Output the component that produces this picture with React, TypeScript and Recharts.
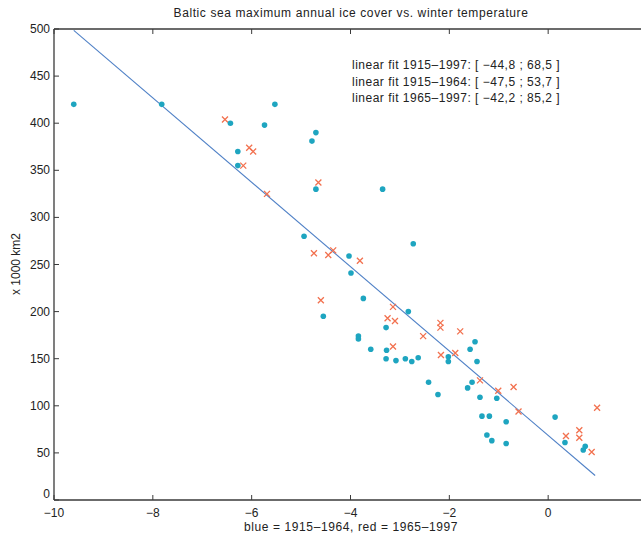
import { ScatterChart, Scatter, XAxis, YAxis, ReferenceLine } from "recharts";

// ice cover (x 1000 km2) vs winter temperature
const blueTemp = [
  -9.6, -7.82, -6.43, -6.28, -6.28, -5.53, -5.74, -4.7, -4.78, -4.7, -3.35, -4.94, -2.73, -4.03, -3.99, -3.74,
  -4.55, -2.83, -3.28, -3.84, -3.84, -3.59, -3.27, -3.28, -3.08, -2.89, -2.76, -2.63, -1.48, -1.58, -2.02, -2.02,
  -1.44, -2.42, -2.23, -1.54, -1.63, -1.38, -1.04, -1.34, -1.19, -0.85, -1.24, -1.14, -0.85, 0.14, 0.34, 0.75, 0.71,
];
const blueIce = [
  420, 420, 400, 370, 355, 420, 398, 390, 381, 330, 330, 280, 272, 259, 241, 214,
  195, 200, 183, 174, 171, 160, 159, 150, 148, 150, 147, 151, 168, 160, 152, 147,
  147, 125, 112, 125, 119, 109, 108, 89, 89, 83, 69, 63, 60, 88, 61, 57, 53,
];
const redTemp = [
  -6.54, -6.05, -5.97, -6.17, -5.69, -4.65, -4.74, -4.45, -4.35, -3.81, -4.6, -3.14, -3.25, -3.1, -2.53, -2.18,
  -2.18, -3.14, -1.78, -2.17, -1.88, -1.38, -1.01, -0.7, -0.6, 0.99, 0.36, 0.63, 0.63, 0.88,
];
const redIce = [
  404, 374, 370, 355, 325, 337, 262, 260, 265, 254, 212, 205, 193, 190, 174, 188,
  183, 163, 179, 154, 156, 127, 116, 120, 94, 98, 68, 74, 66, 51,
];
// ends of the 1915-1997 fit line
const fitTemp = [-9.6, 0.95];
const fitIce = [498.5, 26];

const fitLabels = [
  "linear fit 1915\u20131997: [ \u221244,8 ; 68,5 ]",
  "linear fit 1915\u20131964: [ \u221247,5 ; 53,7 ]",
  "linear fit 1965\u20131997: [ \u221242,2 ; 85,2 ]",
];
const xTicks = [-10, -8, -6, -4, -2, 0];
const yTicks = [0, 50, 100, 150, 200, 250, 300, 350, 400, 450, 500];

const blue = blueTemp.map((t, i) => ({ t, ice: blueIce[i] }));
const red = redTemp.map((t, i) => ({ t, ice: redIce[i] }));
const fit = fitTemp.map((t, i) => ({ t, ice: fitIce[i] }));

const W = 700;
const H = 536;
const TOP = 29;
const BOTTOM = 500;
const LEFT = 54;
const RIGHT = W - 647;
const AXIS = "#3a3a3a";
const FONT = "'Liberation Sans', Arial, Helvetica, sans-serif";

const fmt = (v: number) => (v < 0 ? "\u2212" + Math.abs(v) : String(v));

function XTick({ x, payload }: any) {
  return (
    <g>
      <line x1={x} x2={x} y1={BOTTOM} y2={BOTTOM - 5} stroke={AXIS} strokeWidth={1} />
      <line x1={x} x2={x} y1={TOP} y2={TOP + 5} stroke={AXIS} strokeWidth={1} />
      <text x={x} y={BOTTOM + 17} textAnchor="middle" fontSize={12} fill="#222" fontFamily={FONT}>
        {fmt(payload.value)}
      </text>
    </g>
  );
}

function YTick({ y, payload }: any) {
  // the 0 label sits a little above the corner, as in the original
  const dy = payload.value === 0 ? -2 : 4;
  return (
    <g>
      <line x1={LEFT} x2={LEFT + 5} y1={y} y2={y} stroke={AXIS} strokeWidth={1} />
      <text x={LEFT - 4} y={y} dy={dy} textAnchor="end" fontSize={12} fill="#222" fontFamily={FONT}>
        {payload.value}
      </text>
    </g>
  );
}

const Dot = ({ cx, cy }: any) => <circle cx={cx} cy={cy} r={2.8} fill="#1ea5c0" />;
const Cross = ({ cx, cy }: any) => (
  <path
    d={`M${cx - 3},${cy - 3}L${cx + 3},${cy + 3}M${cx - 3},${cy + 3}L${cx + 3},${cy - 3}`}
    stroke="#f2714f"
    strokeWidth={1.3}
    fill="none"
  />
);

export default function App() {
  return (
    <div style={{ position: "fixed", left: 0, top: 0, width: 641, height: 536, overflow: "hidden", background: "#fff", fontFamily: FONT }}>
      <ScatterChart width={W} height={H} margin={{ top: TOP, right: RIGHT, bottom: 0, left: 0 }}>
        <XAxis
          type="number"
          dataKey="t"
          domain={[-10, 2]}
          ticks={xTicks}
          height={H - BOTTOM}
          tickSize={0}
          tickMargin={0}
          tickLine={false}
          tick={<XTick />}
          axisLine={{ stroke: AXIS, strokeWidth: 1.3 }}
          allowDataOverflow
        />
        <YAxis
          type="number"
          dataKey="ice"
          domain={[0, 500]}
          ticks={yTicks}
          width={LEFT}
          tickSize={0}
          tickMargin={0}
          tickLine={false}
          tick={<YTick />}
          axisLine={{ stroke: AXIS, strokeWidth: 1.3 }}
          allowDataOverflow
        />
        <ReferenceLine y={500} stroke={AXIS} strokeWidth={1.3} ifOverflow="visible" />
        <Scatter data={fit} line={{ stroke: "#4f80c6", strokeWidth: 1.1 }} shape={() => null} isAnimationActive={false} />
        <Scatter data={red} shape={<Cross />} isAnimationActive={false} />
        <Scatter data={blue} shape={<Dot />} isAnimationActive={false} />
      </ScatterChart>

      <div style={{ position: "absolute", left: 0, width: 702, top: 6, textAlign: "center", fontSize: 12, letterSpacing: 0.6, color: "#222" }}>
        Baltic sea maximum annual ice cover vs.  winter temperature
      </div>
      <div style={{ position: "absolute", left: 352, top: 57, fontSize: 12, letterSpacing: 0.5, lineHeight: "16.5px", color: "#222", whiteSpace: "pre" }}>
        {fitLabels.map((s) => (
          <div key={s}>{s}</div>
        ))}
      </div>
      <div
        style={{
          position: "absolute",
          left: 16,
          top: 264,
          transform: "translate(-50%, -50%) rotate(-90deg)",
          fontSize: 12,
          color: "#222",
          whiteSpace: "nowrap",
        }}
      >
        x 1000 km2
      </div>
      <div style={{ position: "absolute", left: 0, width: 702, top: 520, textAlign: "center", fontSize: 12, letterSpacing: 0.6, color: "#222" }}>
        blue = 1915{"\u2013"}1964, red = 1965{"\u2013"}1997
      </div>
    </div>
  );
}
